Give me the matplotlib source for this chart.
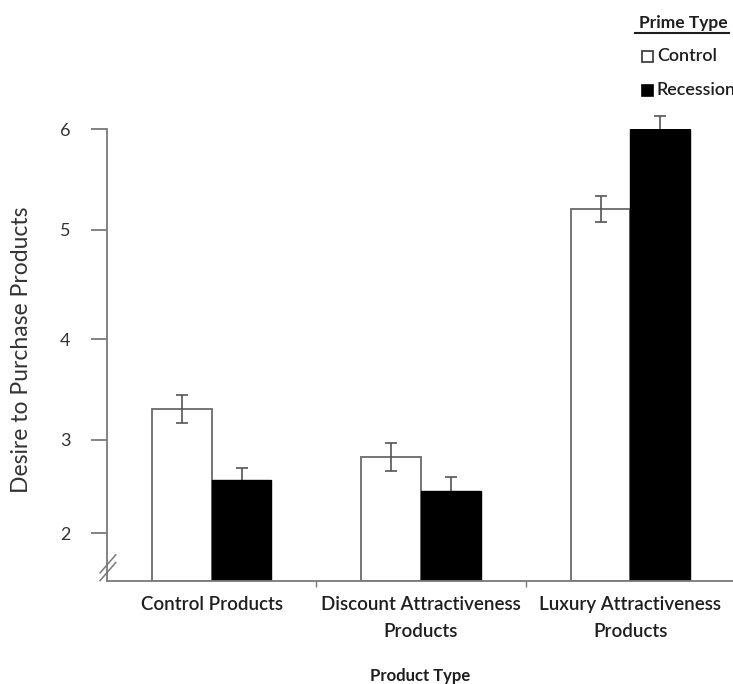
import numpy as np
import matplotlib
matplotlib.use("Agg")
import matplotlib.pyplot as plt
from matplotlib.lines import Line2D
from matplotlib.patches import Rectangle

# ---- data ----
categories = ["Control Products", "Discount Attractiveness\nProducts", "Luxury Attractiveness\nProducts"]
series_names = ["Control", "Recession"]
control_vals = [3.31, 2.82, 5.21]
control_err = [0.14, 0.15, 0.13]
recession_vals = [2.57, 2.45, 6.00]
recession_err = [0.13, 0.15, 0.13]
yticks = [2, 3, 4, 5, 6]

FONT = ["Lato", "DejaVu Sans"]
plt.rcParams["font.family"] = FONT
TXT = "#1e1e1e"
GRAY = "#7a7a7a"

# axis scale matching the reference's (slightly irregular) tick spacing
_v = np.array([1.48, 2, 3, 4, 5, 6, 7])
_p = np.array([0, 48, 141, 242, 351, 452, 553], dtype=float)
def fwd(v):
    return np.interp(v, _v, _p)
def inv(p):
    return np.interp(p, _p, _v)

W, H = 733, 684
fig = plt.figure(figsize=(W / 100, H / 100), dpi=100)
ax = fig.add_axes([107 / W, (H - 581) / H, (W - 107) / W, 452 / H])
ax.set_yscale("function", functions=(fwd, inv))

x = np.arange(len(categories))
bw = 0.2857
off = bw / 2

ax.bar(x - off, control_vals, width=bw, color="white", edgecolor="#6a6a6a",
       linewidth=1.3, zorder=2)
ax.bar(x + off, recession_vals, width=bw, color="black", edgecolor="black",
       linewidth=1.0, zorder=2)

ax.errorbar(x - off, control_vals, yerr=control_err, fmt="none",
            ecolor="#555555", elinewidth=1.2, capsize=4, capthick=1.2, zorder=3, clip_on=False)
ax.errorbar(x + off, recession_vals, yerr=recession_err, fmt="none",
            ecolor="#555555", elinewidth=1.2, capsize=4, capthick=1.2, zorder=1, clip_on=False)

ax.set_ylim(1.48, 6)
ax.set_xlim(-0.5, 2.49)

for s in ["top", "right"]:
    ax.spines[s].set_visible(False)
for s in ["left", "bottom"]:
    ax.spines[s].set_color(GRAY)
    ax.spines[s].set_linewidth(1.3)

ax.set_yticks(yticks)
ax.set_yticklabels([str(t) for t in yticks])
ax.tick_params(axis="y", direction="out", length=11.5, width=1.3, color=GRAY,
               pad=15, labelsize=13, labelcolor="#333333")
ax.set_xticks(x)
ax.set_xticklabels(categories, fontsize=13.5, color=TXT, linespacing=1.7,
                   fontweight="semibold")
ax.tick_params(axis="x", length=0, pad=11)
ax.set_xticks([0.5, 1.5], minor=True)
ax.tick_params(axis="x", which="minor", direction="out", length=4, width=1, color=GRAY)

# axis break marks
for dy in (0.0, 0.017):
    ax.plot([-0.011, 0.014], [0.001 + dy, 0.041 + dy], transform=ax.transAxes,
            color=GRAY, lw=1.1, clip_on=False, zorder=5)

fig.text(22 / W, 1 - 350 / H, "Desire to Purchase Products", rotation=90,
         ha="center", va="center", fontsize=16.5, color="#333333")
fig.text(420 / W, 1 - 676 / H, "Product Type", ha="center", va="center",
         fontsize=12, fontweight="bold", color=TXT)

# legend
fig.text(639 / W, 1 - 23 / H, "Prime Type", ha="left", va="center",
         fontsize=12.5, fontweight="bold", color=TXT)
fig.add_artist(Line2D([635 / W, 729 / W], [1 - 33 / H, 1 - 33 / H], color=TXT, lw=1.5))
fig.add_artist(Rectangle((642 / W, 1 - 62 / H), 11 / W, 11 / H, transform=fig.transFigure,
                         facecolor="white", edgecolor="#333333", lw=1.2))
fig.add_artist(Rectangle((642 / W, 1 - 96 / H), 11 / W, 11 / H, transform=fig.transFigure,
                         facecolor="black", edgecolor="black", lw=1.2))
fig.text(657 / W, 1 - 56 / H, series_names[0], ha="left", va="center",
         fontsize=13, color=TXT, fontweight="semibold")
fig.text(657 / W, 1 - 90 / H, series_names[1], ha="left", va="center",
         fontsize=13, color=TXT, fontweight="semibold")

fig.savefig("out.png", dpi=100)
